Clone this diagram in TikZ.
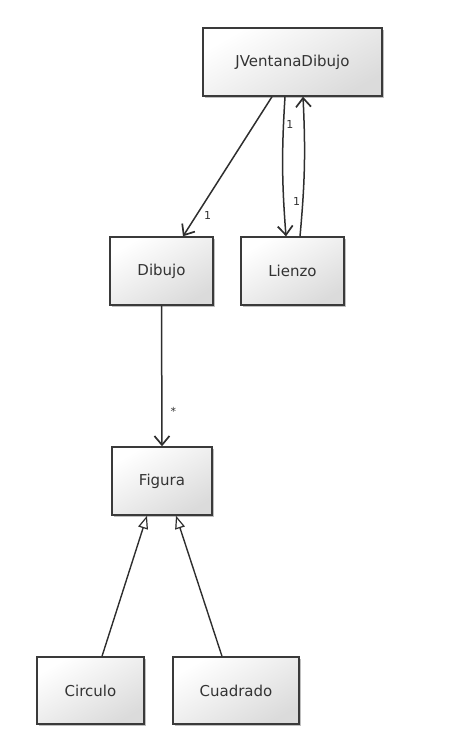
\documentclass[tikz,border=0pt]{standalone}
\usepackage{fontspec}
\setmainfont{DejaVu Sans}
\usetikzlibrary{arrows.meta,shadows,calc}
\definecolor{edgec}{HTML}{2E2E2E}
\definecolor{boxc}{HTML}{3A3A3A}
\tikzset{
  umlbox/.style={draw=boxc, line width=1.4pt, top color=white, bottom color=black!14, shading angle=30,
    drop shadow={shadow xshift=2pt, shadow yshift=-2pt, opacity=0.25, fill=black},
    font=\fontsize{15}{17}\selectfont, text=black!80, inner sep=0pt},
  assoc/.style={draw=edgec, line width=1.5pt, -{Straight Barb[length=9pt,width=15pt,line width=1.7pt]}},
  gen/.style={draw=edgec, line width=1.4pt, -{Triangle[open,length=13pt,width=10pt,fill=white,line width=1.2pt]}},
  mult/.style={font=\fontsize{11}{12}\selectfont, text=black!80, inner sep=1pt}
}
\begin{document}
\begin{tikzpicture}[x=1pt,y=-1pt]
\useasboundingbox (0,0) rectangle (458,747);
\node[umlbox, minimum width=179pt, minimum height=68pt] (jv) at (292.5,62) {JVentanaDibujo};
\node[umlbox, minimum width=103pt, minimum height=68pt] (dib) at (161.5,271) {Dibujo};
\node[umlbox, minimum width=103pt, minimum height=68pt] (lie) at (292.5,271) {Lienzo};
\node[umlbox, minimum width=100pt, minimum height=68pt] (fig) at (162,481) {Figura};
\node[umlbox, minimum width=107pt, minimum height=67pt] (cir) at (90.5,690.5) {Circulo};
\node[umlbox, minimum width=126pt, minimum height=67pt] (cua) at (236,690.5) {Cuadrado};

\draw[assoc] ([xshift=-20.5pt]jv.south) -- node[mult, pos=0.85, right=6pt] {1} ([xshift=21.5pt]dib.north);
\draw[assoc] ([xshift=-7.5pt]jv.south) to[bend right=4] node[mult, pos=0.18, right=1pt] {1} ([xshift=-6.5pt]lie.north);
\draw[assoc] ([xshift=7.5pt]lie.north) to[bend right=4] node[mult, pos=0.23, left=1pt] {1} ([xshift=10.5pt]jv.south);
\draw[assoc] (dib.south) -- node[mult, pos=0.75, right=7pt] {*} (fig.north);
\draw[gen] ([xshift=11.5pt]cir.north) -- ([xshift=-15pt]fig.south);
\draw[gen] ([xshift=-14pt]cua.north) -- ([xshift=14pt]fig.south);
\end{tikzpicture}
\end{document}
